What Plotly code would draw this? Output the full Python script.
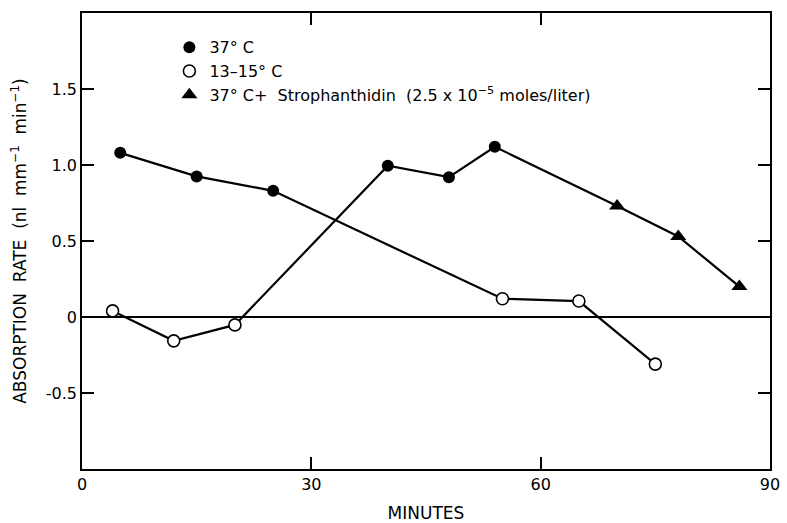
import plotly.graph_objects as go

# Experiment 1: started at 37 C, then cooled to 13-15 C
exp1_minutes = [5, 15, 25, 55, 65, 75]
exp1_rate = [1.08, 0.925, 0.83, 0.12, 0.105, -0.31]
exp1_cond = ["37", "37", "37", "cold", "cold", "cold"]

# Experiment 2: started at 13-15 C, warmed to 37 C, then strophanthidin
exp2_minutes = [4, 12, 20, 40, 48, 54, 70, 78, 86]
exp2_rate = [0.04, -0.157, -0.052, 0.995, 0.92, 1.12, 0.73, 0.53, 0.2]
exp2_cond = ["cold", "cold", "cold", "37", "37", "37", "stro", "stro", "stro"]

conditions = ["37", "cold", "stro"]
cond_labels = {
    "37": "37° C",
    "cold": "13–15° C",
    "stro": "37° C+  Strophanthidin  (2.5 x 10<sup>−5</sup> moles/liter)",
}

x_ticks = [0, 30, 60, 90]
y_ticks = [-0.5, 0, 0.5, 1.0, 1.5]
y_ticktext = ["-0.5", "0", "0.5", "1.0", "1.5"]

FONT = "DejaVu Sans"
NB = "\u00a0"

fig = go.Figure()

for xs, ys in [(exp1_minutes, exp1_rate), (exp2_minutes, exp2_rate)]:
    fig.add_trace(go.Scatter(x=xs, y=ys, mode="lines",
                             line=dict(color="black", width=2.2),
                             showlegend=False, hoverinfo="skip"))

all_x = exp1_minutes + exp2_minutes
all_y = exp1_rate + exp2_rate
all_c = exp1_cond + exp2_cond
for c in conditions:
    xs = [x for x, cc in zip(all_x, all_c) if cc == c]
    ys = [y for y, cc in zip(all_y, all_c) if cc == c]
    if c == "cold":
        marker = dict(symbol="circle", size=12, color="white",
                      line=dict(color="black", width=1.6))
    elif c == "stro":
        marker = dict(symbol="triangle-up", size=14, color="black",
                      line=dict(color="black", width=0))
    else:
        marker = dict(symbol="circle", size=12, color="black",
                      line=dict(color="black", width=0))
    fig.add_trace(go.Scatter(x=xs, y=ys, mode="markers", marker=marker,
                             name=cond_labels[c].replace("  ", NB + NB)))

y_title = (f"ABSORPTION{NB*2}RATE{NB*2}(nl{NB*2}mm<sup>−1</sup>{NB*2}"
           f"min<sup>−1</sup>){NB*4}")

fig.update_layout(
    width=787, height=523,
    margin=dict(l=82, r=17, t=13, b=54),
    plot_bgcolor="white", paper_bgcolor="white",
    font=dict(family=FONT, size=16, color="black"),
    legend=dict(x=0.127, y=0.962, xanchor="left", yanchor="top",
                bgcolor="rgba(0,0,0,0)", font=dict(size=16),
                itemwidth=30, tracegroupgap=0),
    xaxis=dict(range=[0, 90], tickvals=x_ticks, ticks="inside", ticklen=12,
               tickwidth=1.5, tickcolor="black", showline=True, linecolor="black",
               linewidth=1.5, mirror="ticks", showgrid=False, zeroline=False,
               automargin=False,
               title=dict(text="MINUTES", font=dict(size=17))),
    yaxis=dict(range=[-1.0, 2.0], tickvals=y_ticks, ticktext=y_ticktext,
               ticks="inside", ticklen=12, tickwidth=1.5, tickcolor="black",
               showline=True, linecolor="black", linewidth=1.5, mirror="ticks",
               showgrid=False, zeroline=True, zerolinecolor="black",
               zerolinewidth=1.5, automargin=False,
               title=dict(text=y_title, font=dict(size=17))),
)

fig.write_html("out.html")
